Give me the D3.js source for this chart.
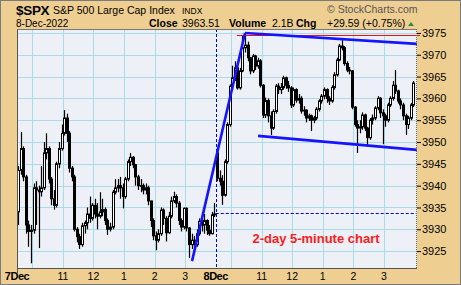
<!DOCTYPE html>
<html>
<head>
<meta charset="utf-8">
<script src="https://cdn.jsdelivr.net/npm/d3@7"></script>
<style>
  body { margin: 0; background: #fff; }
  svg { display: block; font-family: "Liberation Sans", Arial, sans-serif; }
</style>
</head>
<body>
<div id="chart"></div>
<script>
var W = 461, H = 285;
var plot = {left: 17, right: 417, top: 29, bottom: 269};

// 5-minute bars, 7 Dec (0-77) and 8 Dec (78-155)
var opens = [
  3934,3943.5,3948.5,3942,3931,3929.5,3929.8,3939.5,3939,3938.6,
  3939.5,3947.5,3948.5,3941.5,3937,3935.5,3945,3948.5,3952,3955.5,
  3952,3944,3942,3930,3928.3,3926.5,3930.8,3931.5,3933.5,3932.5,
  3935.5,3933.5,3933,3934,3934.5,3932,3930,3930.5,3938.5,3939.5,
  3940,3939.5,3937.5,3941.5,3945.5,3946.5,3944.8,3942,3940,3940,
  3939,3939.5,3936.5,3932,3928.5,3927.5,3929,3934.4,3932.5,3929.2,
  3933,3936.5,3937.5,3936,3932,3930.5,3934.8,3930.3,3926.5,3927.5,
  3926.5,3929,3931.8,3931,3932,3929.8,3929,3933.3,
  3947.5,3941.7,3941,3937.8,3945.5,3954,3962.8,3964.7,3967,3962.4,
  3966.3,3971.6,3972.2,3969.3,3966.3,3969.7,3967.4,3968.6,3963,3956.2,
  3959.5,3956,3953.2,3957,3962.8,3962,3962.5,3964.7,3963,3962.4,
  3958.5,3962,3959.6,3960,3957.1,3957.3,3955.5,3956,3955,3955.5,
  3957.5,3959.4,3960.5,3962,3960,3959.4,3962.5,3965.4,3968.8,3972,
  3971.6,3968,3966.5,3966.3,3958,3954,3953.2,3953.5,3956.2,3953.2,
  3951,3955,3955.5,3957.8,3960,3956.7,3956,3955,3958.5,3960,
  3963,3961.7,3959.4,3958.5,3956,3954,3955.5,3958.5
];
var highs = [
  3944.5,3952.3,3949,3942.5,3932,3931,3940.5,3941,3940,3944.5,
  3950,3952,3949,3942,3939,3945.5,3950,3954,3957.3,3956.5,
  3952.5,3944.5,3942.5,3930.5,3929,3931.5,3932,3935,3937.5,3936,
  3937,3936,3938.5,3937,3935,3932.5,3931.5,3939,3941.5,3941.5,
  3942,3940.5,3942,3946,3947.5,3946.8,3945,3942.5,3941.5,3940.5,
  3940.5,3940,3936.5,3932.5,3929.5,3930,3935,3934.8,3933,3934,
  3937.5,3938.6,3938,3936.5,3932.5,3935,3935,3930.5,3929,3928.5,
  3930,3932.5,3932.5,3933.5,3932.3,3931,3934,3936,
  3948.5,3943.5,3942.4,3946,3954.5,3963.2,3967.5,3968.5,3968,3967,
  3974.5,3975,3973,3969.5,3970.2,3970,3969.3,3969,3963.3,3960.2,
  3960,3957,3957.5,3963.3,3963.5,3963.5,3965.2,3965,3964,3962.8,
  3962.5,3962.3,3961,3960.5,3958.2,3957.5,3956.5,3956.3,3956,3958,
  3959.8,3961,3962.5,3962.3,3960.5,3963,3966,3969.3,3972.5,3973.4,
  3972,3968.5,3967.2,3966.5,3958.2,3955,3955,3956.8,3956.5,3953.5,
  3955.5,3956.3,3958.2,3960.5,3960.3,3957.5,3956.5,3959,3960.5,3964,
  3966.5,3962,3960,3959,3956.5,3956,3959,3964
];
var lows = [
  3931,3942.5,3941,3929,3926,3922.2,3929,3931,3925.7,3937.5,
  3939,3946,3940.5,3935.5,3934.5,3935,3944,3948,3951.5,3950,
  3943,3941,3929.5,3927,3925.5,3926,3929,3930,3931.5,3932,
  3932.5,3930,3932.5,3933,3931,3928.7,3929.5,3930,3938,3938.5,
  3937,3934.8,3937,3941,3944.5,3944,3940,3939,3938.5,3938,
  3938,3935.5,3930.5,3927.5,3925.2,3927,3928.5,3931,3927.2,3929,
  3932.5,3936,3935,3931,3929.5,3930,3929.5,3923.4,3925.5,3925.8,
  3926,3928.5,3929.5,3929,3928.7,3928.5,3928.8,3932.8,
  3941,3940,3935.6,3937.5,3945,3953.5,3962,3964,3962,3962,
  3966,3970.5,3968.5,3965.5,3965.8,3966.5,3966.8,3962.5,3955.5,3955.5,
  3954.5,3951.6,3952.8,3956.5,3961,3961,3962,3962.2,3961.5,3957.8,
  3958,3959,3958.8,3956.5,3956,3954.5,3954.8,3952.5,3954.3,3955,
  3957,3958.8,3959.8,3959,3958.5,3959,3962,3965,3968.5,3971,
  3967.5,3966,3965.5,3957.5,3953.5,3947.5,3952,3952.8,3952.5,3949,
  3950.5,3954,3955,3957.3,3955.5,3949.5,3953.5,3954.5,3958,3959.5,
  3961,3958.8,3957.5,3955,3951.6,3953,3955,3958
];
var closes = [
  3943.5,3948.5,3942,3931,3929.5,3929.8,3939.5,3939,3938.6,3939.5,
  3947.5,3948.5,3941.5,3937,3935.5,3945,3948.5,3952,3955.5,3952,
  3944,3942,3930,3928.3,3926.5,3930.8,3931.5,3933.5,3932.5,3935.5,
  3933.5,3933,3934,3934.5,3932,3930,3930.5,3938.5,3939.5,3940,
  3939.5,3937.5,3941.5,3945.5,3946.5,3944.8,3942,3940,3940,3939,
  3939.5,3936.5,3932,3928.5,3927.5,3929,3934.4,3932.5,3929.2,3933,
  3936.5,3937.5,3936,3932,3930.5,3934.8,3930.3,3926.5,3927.5,3926.5,
  3929,3931.8,3931,3932,3929.8,3929,3933.3,3933.5,
  3941.7,3941,3937.8,3945.5,3954,3962.8,3964.7,3967,3962.4,3966.3,
  3971.6,3972.2,3969.3,3966.3,3969.7,3967.4,3968.6,3963,3956.2,3959.5,
  3956,3953.2,3957,3962.8,3962,3962.5,3964.7,3963,3962.4,3958.5,
  3962,3959.6,3960,3957.1,3957.3,3955.5,3956,3955,3955.5,3957.5,
  3959.4,3960.5,3962,3960,3959.4,3962.5,3965.4,3968.8,3972,3971.6,
  3968,3966.5,3966.3,3958,3954,3953.2,3953.5,3956.2,3953.2,3951,
  3955,3955.5,3957.8,3960,3956.7,3956,3955,3958.5,3960,3963,
  3961.7,3959.4,3958.5,3956,3954,3955.5,3958.5,3963.51
];

var yTicks = [3925, 3930, 3935, 3940, 3945, 3950, 3955, 3960, 3965, 3970, 3975];
// bar index of each hour line and its label
var hourIdx    = [0, 6, 18, 30, 42, 54, 66, 78, 84, 96, 108, 120, 132, 144];
var hourLabels = ["7Dec", "", "11", "12", "1", "2", "3", "8Dec", "", "11", "12", "1", "2", "3"];

// annotations: [bar index, price]
var trendUp    = [[68.7, 3922.7], [89.5, 3975.0]];
var channelTop = [[89.5, 3975.0], [157, 3972.5]];
var channelBot = [[94.6, 3951.4], [157, 3948.2]];
var redLevel = 3974.5, redFrom = 86.3;
var gapLevel = 3933.7, dayStart = 78;

var svg = d3.select("#chart").append("svg").attr("width", W).attr("height", H);

svg.append("rect").attr("x", 0.5).attr("y", 0.5).attr("width", W - 1).attr("height", H - 1)
  .attr("fill", "#efcf91").attr("stroke", "#7a7a7a");

var x = d3.scaleLinear().domain([0, 157]).range([plot.left, plot.right]);
var y = d3.scaleLinear().domain([3920.9, 3975.9]).range([plot.bottom, plot.top]);

svg.append("rect").attr("x", plot.left).attr("y", plot.top)
  .attr("width", plot.right - plot.left).attr("height", plot.bottom - plot.top)
  .attr("fill", "#eef0f8");

// grid
svg.append("g").selectAll("line").data(yTicks).join("line")
  .attr("x1", plot.left).attr("x2", plot.right)
  .attr("y1", d => Math.round(y(d)) + 0.5).attr("y2", d => Math.round(y(d)) + 0.5)
  .attr("stroke", "#aadbe6").attr("stroke-width", 1);
svg.append("g").selectAll("line").data(hourIdx.filter(d => d > 0 && d != dayStart)).join("line")
  .attr("x1", d => Math.round(x(d)) + 0.5).attr("x2", d => Math.round(x(d)) + 0.5)
  .attr("y1", plot.top).attr("y2", plot.bottom)
  .attr("stroke", "#aadbe6").attr("stroke-width", 1);

// blue dashed markers
svg.append("line")
  .attr("x1", Math.round(x(dayStart)) + 0.5).attr("x2", Math.round(x(dayStart)) + 0.5)
  .attr("y1", plot.top).attr("y2", plot.bottom)
  .attr("stroke", "#0000dd").attr("stroke-dasharray", "3,2");
svg.append("line")
  .attr("x1", x(dayStart)).attr("x2", plot.right)
  .attr("y1", Math.round(y(gapLevel)) + 0.5).attr("y2", Math.round(y(gapLevel)) + 0.5)
  .attr("stroke", "#0000dd").attr("stroke-dasharray", "3,2");

// candles
var bw = 2;
var candles = svg.append("g");
candles.selectAll("line").data(closes).join("line")
  .attr("x1", (d, i) => Math.round(x(i + 0.5)) + 0.5)
  .attr("x2", (d, i) => Math.round(x(i + 0.5)) + 0.5)
  .attr("y1", (d, i) => y(highs[i]))
  .attr("y2", (d, i) => y(lows[i]))
  .attr("stroke", "#000").attr("stroke-width", 1.2);
candles.selectAll("rect").data(closes).join("rect")
  .attr("x", (d, i) => Math.round(x(i + 0.5)) - bw / 2 + 0.5)
  .attr("width", bw)
  .attr("y", (d, i) => y(Math.max(opens[i], d)))
  .attr("height", (d, i) => Math.max(0.8, Math.abs(y(opens[i]) - y(d))))
  .attr("fill", (d, i) => d >= opens[i] ? "#fff" : "#000")
  .attr("stroke", "#000").attr("stroke-width", 1);

// red level line
svg.append("line")
  .attr("x1", x(redFrom)).attr("x2", plot.right + 3)
  .attr("y1", Math.round(y(redLevel)) + 0.5).attr("y2", Math.round(y(redLevel)) + 0.5)
  .attr("stroke", "#ee1111").attr("stroke-width", 1);

// trend lines
var line = d3.line().x(d => x(d[0])).y(d => y(d[1]));
[trendUp, channelTop, channelBot].forEach(function(t) {
  svg.append("path").datum(t).attr("d", line)
    .attr("fill", "none").attr("stroke", "#1414ff").attr("stroke-width", 2.6);
});

// plot frame
svg.append("line").attr("x1", plot.left + 0.5).attr("x2", plot.left + 0.5)
  .attr("y1", plot.top).attr("y2", plot.bottom + 4).attr("stroke", "#555");
svg.append("line").attr("x1", plot.left).attr("x2", plot.right)
  .attr("y1", plot.top + 0.5).attr("y2", plot.top + 0.5).attr("stroke", "#777");
svg.append("line").attr("x1", plot.left).attr("x2", plot.right)
  .attr("y1", plot.bottom - 0.5).attr("y2", plot.bottom - 0.5).attr("stroke", "#555");
svg.append("line").attr("x1", plot.right - 0.5).attr("x2", plot.right - 0.5)
  .attr("y1", plot.top).attr("y2", plot.bottom)
  .attr("stroke", "#666").attr("stroke-dasharray", "1,1");

// y axis
var yAxis = d3.axisRight(y).tickValues(yTicks).tickFormat(d3.format("d")).tickSize(4).tickPadding(1);
var gy = svg.append("g").attr("transform", "translate(" + plot.right + ",0)").call(yAxis);
gy.select(".domain").remove();
gy.selectAll("text").attr("font-size", 11).attr("fill", "#000")
  .attr("font-family", "Liberation Sans, Arial, sans-serif");

// x axis
svg.append("g").selectAll("text").data(hourIdx).join("text")
  .attr("x", d => x(d)).attr("y", 280)
  .attr("text-anchor", "middle")
  .attr("font-size", (d, i) => hourLabels[i].indexOf("Dec") > 0 ? 11 : 10.5)
  .attr("font-weight", (d, i) => hourLabels[i].indexOf("Dec") > 0 ? "bold" : "normal")
  .attr("letter-spacing", (d, i) => hourLabels[i].indexOf("Dec") > 0 ? "-0.5" : "0")
  .text((d, i) => hourLabels[i]);

// header
var hdr = svg.append("g");
hdr.append("text").attr("x", 16).attr("y", 15).attr("font-size", 13.5).attr("font-weight", "bold")
  .attr("letter-spacing", "-0.3").text("$SPX");
hdr.append("text").attr("x", 53).attr("y", 14).attr("font-size", 10.5).text("S&P 500 Large Cap Index");
hdr.append("text").attr("x", 182).attr("y", 14).attr("font-size", 8.5).text("INDX");
hdr.append("text").attr("x", 327).attr("y", 13).attr("font-size", 10.5).attr("fill", "#555").text("\u00A9 StockCharts.com");
hdr.append("text").attr("x", 16).attr("y", 27).attr("font-size", 10).text("8-Dec-2022");
var rowY = 27;
hdr.append("text").attr("x", 149).attr("y", rowY).attr("font-size", 10.5).attr("font-weight", "bold").text("Close");
hdr.append("text").attr("x", 182).attr("y", rowY).attr("font-size", 10.5).text("3963.51");
hdr.append("text").attr("x", 229).attr("y", rowY).attr("font-size", 10.5).attr("font-weight", "bold").text("Volume");
hdr.append("text").attr("x", 272).attr("y", rowY).attr("font-size", 10.5).text("2.1B");
hdr.append("text").attr("x", 296).attr("y", rowY).attr("font-size", 10.5).attr("font-weight", "bold").text("Chg");
hdr.append("text").attr("x", 327).attr("y", rowY).attr("font-size", 10.5).text("+29.59 (+0.75%)");
hdr.append("path").attr("d", "M408,26 L414,26 L411,22 Z").attr("fill", "#2f8a3a");

svg.append("text").attr("x", 316).attr("y", 243).attr("text-anchor", "middle")
  .attr("font-size", 13).attr("font-weight", "bold").attr("fill", "#ff1a1a")
  .text("2-day 5-minute chart");
</script>
</body>
</html>
